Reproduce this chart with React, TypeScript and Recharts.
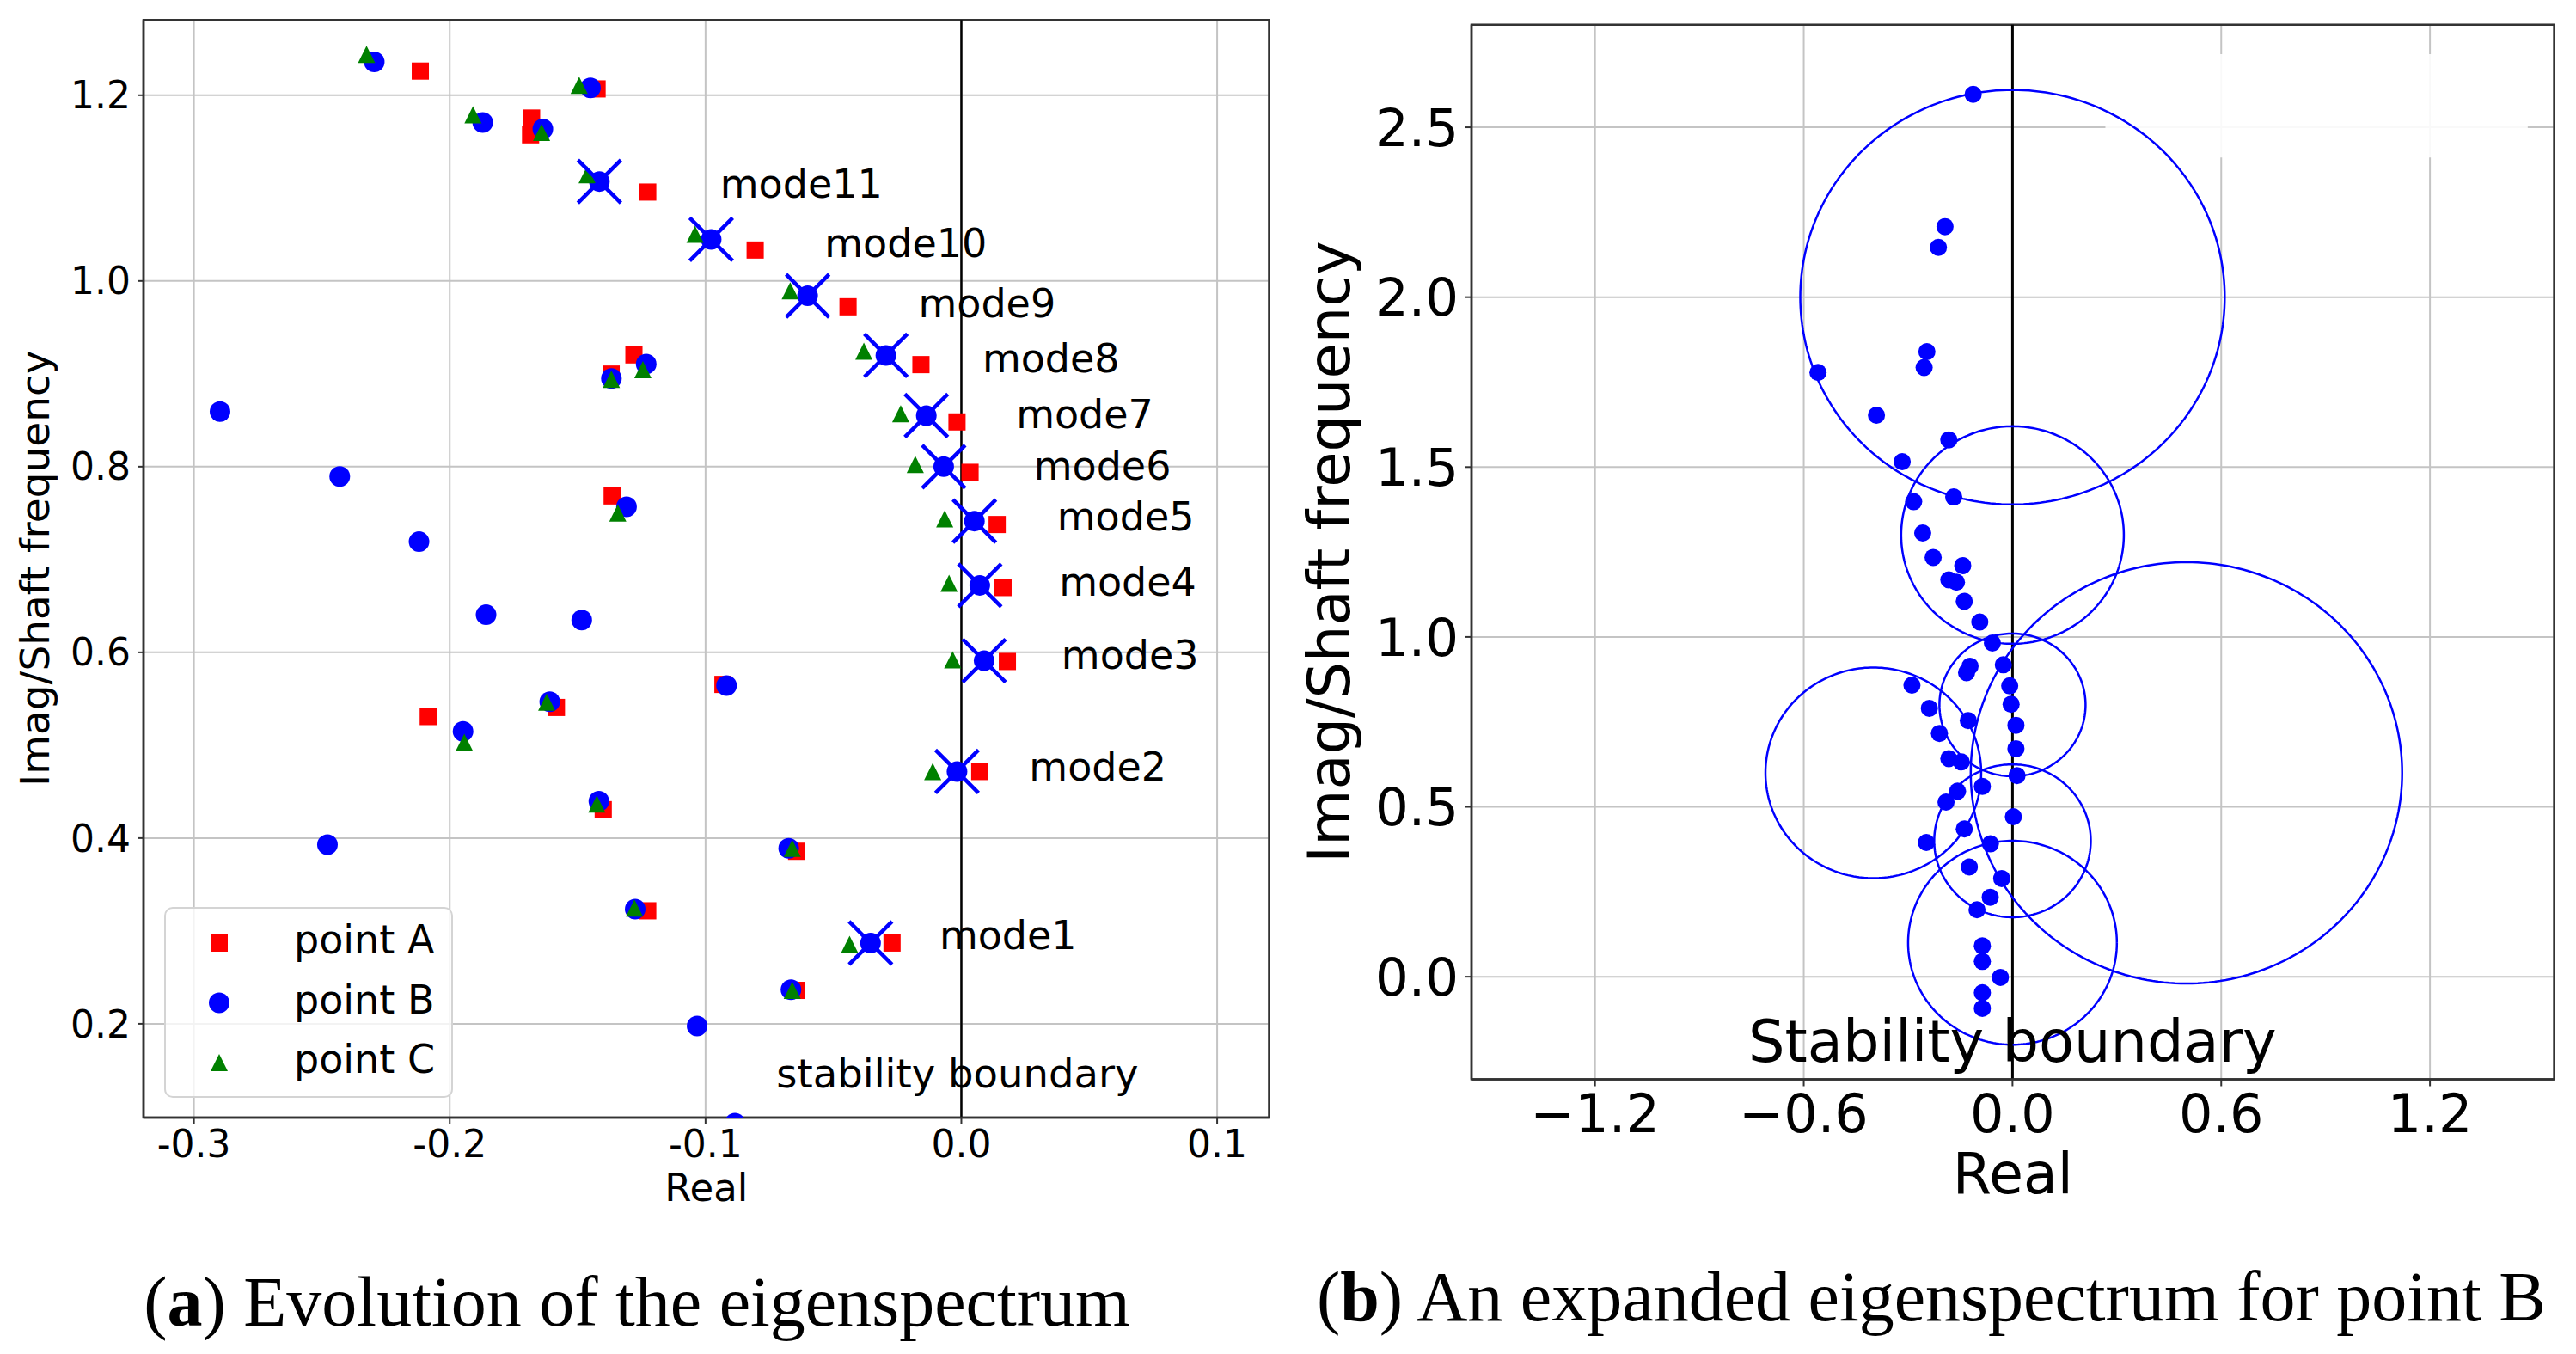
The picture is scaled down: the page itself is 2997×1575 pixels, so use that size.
import React from 'react';
import {
  ScatterChart,
  Scatter,
  XAxis,
  YAxis,
  CartesianGrid,
  ReferenceLine,
  ReferenceArea,
  Legend,
} from 'recharts';

const FONT = 'DejaVu Sans, Verdana, sans-serif';
const SERIF = 'Liberation Serif, Times New Roman, serif';

// ---------------- Panel (a) data ----------------
const pointA = [
  { x: -0.2115, y: 1.226 }, { x: -0.1424, y: 1.2068 }, { x: -0.168, y: 1.1754 },
  { x: -0.1684, y: 1.1574 }, { x: -0.1226, y: 1.0957 }, { x: -0.0806, y: 1.0333 },
  { x: -0.0443, y: 0.9722 }, { x: -0.0158, y: 0.9099 }, { x: -0.0017, y: 0.8482 },
  { x: 0.0034, y: 0.7939 }, { x: 0.014, y: 0.7377 }, { x: 0.0163, y: 0.6698 },
  { x: 0.018, y: 0.5902 }, { x: 0.0072, y: 0.4717 }, { x: -0.0271, y: 0.287 },
  { x: -0.128, y: 0.9204 }, { x: -0.1369, y: 0.8997 }, { x: -0.1365, y: 0.7685 },
  { x: -0.0932, y: 0.5655 }, { x: -0.1583, y: 0.5407 }, { x: -0.2084, y: 0.5309 },
  { x: -0.14, y: 0.4306 }, { x: -0.0644, y: 0.3858 }, { x: -0.1226, y: 0.3217 },
  { x: -0.0645, y: 0.236 },
];

const pointB = [
  { x: -0.2295, y: 1.236 }, { x: -0.145, y: 1.208 }, { x: -0.1871, y: 1.1707 },
  { x: -0.1636, y: 1.1636 }, { x: -0.1415, y: 1.1071 }, { x: -0.0978, y: 1.0448 },
  { x: -0.0601, y: 0.984 }, { x: -0.0295, y: 0.9198 }, { x: -0.0137, y: 0.855 },
  { x: -0.0069, y: 0.8 }, { x: 0.0051, y: 0.7414 }, { x: 0.0072, y: 0.6722 },
  { x: 0.0089, y: 0.5911 }, { x: -0.0017, y: 0.4717 }, { x: -0.0355, y: 0.287 },
  { x: -0.1232, y: 0.9106 }, { x: -0.1368, y: 0.895 }, { x: -0.1309, y: 0.7569 },
  { x: -0.2898, y: 0.8593 }, { x: -0.243, y: 0.7895 }, { x: -0.212, y: 0.7192 },
  { x: -0.1858, y: 0.6405 }, { x: -0.1484, y: 0.6349 }, { x: -0.0918, y: 0.5643 },
  { x: -0.1609, y: 0.5469 }, { x: -0.1948, y: 0.515 }, { x: -0.1417, y: 0.4398 },
  { x: -0.2478, y: 0.393 }, { x: -0.0675, y: 0.389 }, { x: -0.1275, y: 0.3235 },
  { x: -0.0666, y: 0.2367 }, { x: -0.1033, y: 0.1976 }, { x: -0.0885, y: 0.093 },
];

const pointC = [
  { x: -0.2325, y: 1.244 }, { x: -0.1494, y: 1.2106 }, { x: -0.1909, y: 1.179 },
  { x: -0.1641, y: 1.16 }, { x: -0.1463, y: 1.1143 }, { x: -0.1041, y: 1.0504 },
  { x: -0.0669, y: 0.9893 }, { x: -0.0381, y: 0.9244 }, { x: -0.0237, y: 0.8571 },
  { x: -0.018, y: 0.8025 }, { x: -0.0065, y: 0.7439 }, { x: -0.0048, y: 0.6744 },
  { x: -0.0034, y: 0.592 }, { x: -0.0112, y: 0.4717 }, { x: -0.0437, y: 0.2855 },
  { x: -0.1245, y: 0.9044 }, { x: -0.1368, y: 0.894 }, { x: -0.1343, y: 0.75 },
  { x: -0.1621, y: 0.5463 }, { x: -0.1943, y: 0.5031 }, { x: -0.1425, y: 0.4368 },
  { x: -0.0661, y: 0.389 }, { x: -0.1278, y: 0.3247 }, { x: -0.0661, y: 0.236 },
];

const modeMarkers = [
  { x: -0.0355, y: 0.287 }, { x: -0.0017, y: 0.4717 }, { x: 0.0089, y: 0.5911 },
  { x: 0.0072, y: 0.6722 }, { x: 0.0051, y: 0.7414 }, { x: -0.0069, y: 0.8 },
  { x: -0.0137, y: 0.855 }, { x: -0.0295, y: 0.9198 }, { x: -0.0601, y: 0.984 },
  { x: -0.0978, y: 1.0448 }, { x: -0.1415, y: 1.1071 },
];

const modeLabels = [
  { label: 'mode1', x: -0.0086, y: 0.2803 },
  { label: 'mode2', x: 0.0265, y: 0.4615 },
  { label: 'mode3', x: 0.0391, y: 0.5819 },
  { label: 'mode4', x: 0.0382, y: 0.6611 },
  { label: 'mode5', x: 0.0374, y: 0.7309 },
  { label: 'mode6', x: 0.0283, y: 0.7855 },
  { label: 'mode7', x: 0.0214, y: 0.8411 },
  { label: 'mode8', x: 0.0082, y: 0.9019 },
  { label: 'mode9', x: -0.0168, y: 0.9608 },
  { label: 'mode10', x: -0.0535, y: 1.0257 },
  { label: 'mode11', x: -0.0943, y: 1.0895 },
];

const leftAnnotations = [{ label: 'stability boundary', x: -0.0723, y: 0.1312 }];

const leftXTicks = [-0.3, -0.2, -0.1, 0.0, 0.1];
const leftYTicks = [0.2, 0.4, 0.6, 0.8, 1.0, 1.2];
const leftXDomain = [-0.3197, 0.1203];
const leftYDomain = [0.099, 1.281];

// ---------------- Panel (b) data ----------------
const spectrumB = [
  { x: -0.113, y: 2.597 }, { x: -0.194, y: 2.2075 }, { x: -0.213, y: 2.1465 },
  { x: -0.246, y: 1.8395 }, { x: -0.254, y: 1.793 }, { x: -0.559, y: 1.7785 },
  { x: -0.391, y: 1.6526 }, { x: -0.183, y: 1.58 }, { x: -0.317, y: 1.516 },
  { x: -0.169, y: 1.412 }, { x: -0.284, y: 1.398 }, { x: -0.258, y: 1.306 },
  { x: -0.228, y: 1.234 }, { x: -0.143, y: 1.21 }, { x: -0.183, y: 1.168 },
  { x: -0.161, y: 1.161 }, { x: -0.1386, y: 1.105 }, { x: -0.094, y: 1.044 },
  { x: -0.0578, y: 0.982 }, { x: -0.0264, y: 0.918 }, { x: -0.122, y: 0.914 },
  { x: -0.132, y: 0.895 }, { x: -0.008, y: 0.856 }, { x: -0.004, y: 0.802 },
  { x: 0.0099, y: 0.74 }, { x: 0.0099, y: 0.671 }, { x: 0.013, y: 0.592 },
  { x: 0.0025, y: 0.471 }, { x: -0.289, y: 0.858 }, { x: -0.239, y: 0.79 },
  { x: -0.127, y: 0.754 }, { x: -0.21, y: 0.716 }, { x: -0.183, y: 0.642 },
  { x: -0.147, y: 0.632 }, { x: -0.0866, y: 0.56 }, { x: -0.158, y: 0.546 },
  { x: -0.191, y: 0.514 }, { x: -0.1386, y: 0.435 }, { x: -0.2475, y: 0.395 },
  { x: -0.0635, y: 0.391 }, { x: -0.124, y: 0.323 }, { x: -0.031, y: 0.289 },
  { x: -0.064, y: 0.234 }, { x: -0.102, y: 0.197 }, { x: -0.0866, y: 0.091 },
  { x: -0.0866, y: 0.045 }, { x: -0.0347, y: -0.002 }, { x: -0.0866, y: -0.047 },
  { x: -0.0866, y: -0.093 },
];

// circles drawn in data units: centre and radius
const stabilityCircles = [
  { cx: 0, cy: 2.0, r: 0.61 },
  { cx: 0, cy: 1.3, r: 0.32 },
  { cx: 0.5, cy: 0.6, r: 0.62 },
  { cx: -0.4, cy: 0.6, r: 0.31 },
  { cx: 0, cy: 0.8, r: 0.21 },
  { cx: 0, cy: 0.4, r: 0.225 },
  { cx: 0, cy: 0.1, r: 0.3 },
];

const rightAnnotations = [{ label: 'Stability boundary', x: 0, y: -0.25 }];

const rightXTicks = [-1.2, -0.6, 0.0, 0.6, 1.2];
const rightYTicks = [0.0, 0.5, 1.0, 1.5, 2.0, 2.5];
const rightXDomain = [-1.555, 1.557];
const rightYDomain = [-0.302, 2.802];
const rightFadeBox = { x1: 0.267, x2: 1.481, y1: 2.411, y2: 2.715 };

// outline of a circle (geometry from centre + radius)
const circleOutline = (c: { cx: number; cy: number; r: number }) => {
  const pts: { x: number; y: number }[] = [];
  const n = 240;
  for (let i = 0; i <= n; i++) {
    const t = (i / n) * 2 * Math.PI;
    pts.push({ x: c.cx + c.r * Math.cos(t), y: c.cy + c.r * Math.sin(t) });
  }
  return pts;
};

// ---------------- shapes ----------------
const SquareShape = (p: any) => (
  <rect x={p.cx - 10} y={p.cy - 10} width={20} height={20} fill="#ff0000" />
);
const CircleShape = (p: any) => <circle cx={p.cx} cy={p.cy} r={12} fill="#0000ff" />;
const SmallCircleShape = (p: any) => <circle cx={p.cx} cy={p.cy} r={10} fill="#0000ff" />;
const TriangleShape = (p: any) => (
  <polygon
    points={`${p.cx},${p.cy - 10} ${p.cx - 10},${p.cy + 10} ${p.cx + 10},${p.cy + 10}`}
    fill="#008000"
  />
);
const XShape = (p: any) => (
  <g stroke="#0000ff" strokeWidth={4.5}>
    <line x1={p.cx - 25} y1={p.cy - 25} x2={p.cx + 25} y2={p.cy + 25} />
    <line x1={p.cx - 25} y1={p.cy + 25} x2={p.cx + 25} y2={p.cy - 25} />
  </g>
);
const textShape = (fontSize: number, anchor: string) => (p: any) => (
  <text
    x={p.cx}
    y={p.cy}
    fontSize={fontSize}
    textAnchor={anchor as any}
    fontFamily={FONT}
    fill="#000"
  >
    {p.payload.label}
  </text>
);
const NoShape = () => <g />;

const legendMarker = (type: string, cx: number, cy: number) => {
  if (type === 'square') return <rect x={cx - 10} y={cy - 10} width={20} height={20} fill="#ff0000" />;
  if (type === 'circle') return <circle cx={cx} cy={cy} r={12} fill="#0000ff" />;
  return (
    <polygon
      points={`${cx},${cy - 10} ${cx - 10},${cy + 10} ${cx + 10},${cy + 10}`}
      fill="#008000"
    />
  );
};

const LegendBox = (props: any) => {
  const items = (props.payload || []).filter((e: any) => e.type && e.type !== 'none');
  return (
    <svg width={336} height={222} style={{ display: 'block' }}>
      <rect
        x={1}
        y={1}
        width={334}
        height={220}
        rx={9}
        fill="#ffffff"
        fillOpacity={0.8}
        stroke="#d4d4d4"
        strokeWidth={2}
      />
      {items.map((e: any, i: number) => {
        const cy = 42 + i * 69.5;
        return (
          <g key={i}>
            {legendMarker(e.type, 64, cy)}
            <text x={151} y={cy + 12} fontSize={46} fontFamily={FONT} fill="#000">
              {e.value}
            </text>
          </g>
        );
      })}
    </svg>
  );
};

const minusFmt = (v: number) => (v < 0 ? '\u2212' : '') + Math.abs(v).toFixed(1);

const GRID = '#c4c4c4';
const SPINE = '#333333';

export default function App() {
  return (
    <div
      style={{
        position: 'absolute',
        left: 0,
        top: 0,
        width: 2997,
        height: 1575,
        background: '#ffffff',
        overflow: 'hidden',
      }}
    >
      <svg width={2997} height={1575} style={{ position: 'absolute', left: 0, top: 0 }}>
        <text x={741} y={1542} textAnchor="middle" fontSize={82} fontFamily={SERIF} fill="#000">
          (<tspan fontWeight="bold">a</tspan>) Evolution of the eigenspectrum
        </text>
        <text x={2247} y={1536} textAnchor="middle" fontSize={82} fontFamily={SERIF} fill="#000">
          (<tspan fontWeight="bold">b</tspan>) An expanded eigenspectrum for point B
        </text>
      </svg>

      {/* Panel (a) */}
      <div style={{ position: 'absolute', left: 0, top: 0 }}>
        <ScatterChart
          width={1500}
          height={1420}
          margin={{ top: 23.3, right: 23.5, left: 0, bottom: 0 }}
          style={{ fontFamily: FONT }}
        >
          <CartesianGrid stroke={GRID} strokeWidth={2} />
          <XAxis
            type="number"
            dataKey="x"
            domain={leftXDomain}
            ticks={leftXTicks}
            interval={0}
            allowDataOverflow
            height={120}
            tickSize={7}
            tickMargin={8}
            tickFormatter={(v: number) => v.toFixed(1)}
            tick={{ fontSize: 44, fill: '#000', fontFamily: FONT }}
            axisLine={{ stroke: SPINE, strokeWidth: 2.5 }}
            tickLine={{ stroke: SPINE, strokeWidth: 2 }}
            label={() => (
              <text x={821.75} y={1397} textAnchor="middle" fontSize={45} fontFamily={FONT} fill="#000">
                Real
              </text>
            )}
          />
          <YAxis
            type="number"
            dataKey="y"
            domain={leftYDomain}
            ticks={leftYTicks}
            interval={0}
            allowDataOverflow
            width={167}
            tickSize={7}
            tickMargin={8}
            tickFormatter={(v: number) => v.toFixed(1)}
            tick={{ fontSize: 44, fill: '#000', fontFamily: FONT }}
            axisLine={{ stroke: SPINE, strokeWidth: 2.5 }}
            tickLine={{ stroke: SPINE, strokeWidth: 2 }}
            label={() => (
              <text
                x={57}
                y={661}
                transform="rotate(-90, 57, 661)"
                textAnchor="middle"
                fontSize={47}
                fontFamily={FONT}
                fill="#000"
              >
                Imag/Shaft frequency
              </text>
            )}
          />
          <ReferenceLine x={0} stroke="#000" strokeWidth={2.5} />
          <Scatter
            name="point A"
            data={pointA}
            fill="#ff0000"
            legendType="square"
            shape={SquareShape}
            isAnimationActive={false}
          />
          <Scatter
            name="point B"
            data={pointB}
            fill="#0000ff"
            legendType="circle"
            shape={CircleShape}
            isAnimationActive={false}
          />
          <Scatter
            name="point C"
            data={pointC}
            fill="#008000"
            legendType="triangle"
            shape={TriangleShape}
            isAnimationActive={false}
          />
          <Scatter
            name="modes"
            data={modeMarkers}
            legendType="none"
            shape={XShape}
            isAnimationActive={false}
          />
          <Scatter
            name="modeLabels"
            data={modeLabels}
            legendType="none"
            shape={textShape(46, 'start')}
            isAnimationActive={false}
          />
          <Scatter
            name="annot"
            data={leftAnnotations}
            legendType="none"
            shape={textShape(46.5, 'start')}
            isAnimationActive={false}
          />
          <ReferenceArea
            x1={leftXDomain[0]}
            x2={leftXDomain[1]}
            y1={leftYDomain[0]}
            y2={leftYDomain[1]}
            fill="none"
            fillOpacity={0}
            stroke={SPINE}
            strokeWidth={2.5}
          />
          <Legend
            layout="horizontal"
            verticalAlign="middle"
            align="center"
            wrapperStyle={{ left: 191, top: 1055, width: 336, height: 222 }}
            content={(props: any) => <LegendBox payload={props.payload} />}
          />
        </ScatterChart>
      </div>

      {/* Panel (b) */}
      <div style={{ position: 'absolute', left: 1500, top: 0 }}>
        <ScatterChart
          width={1497}
          height={1420}
          margin={{ top: 28.7, right: 25.4, left: 0, bottom: 0 }}
          style={{ fontFamily: FONT }}
        >
          <CartesianGrid stroke={GRID} strokeWidth={2} />
          <XAxis
            type="number"
            dataKey="x"
            domain={rightXDomain}
            ticks={rightXTicks}
            interval={0}
            allowDataOverflow
            height={164.5}
            tickSize={8}
            tickMargin={9.5}
            tickFormatter={minusFmt}
            tick={{ fontSize: 62, fill: '#000', fontFamily: FONT }}
            axisLine={{ stroke: SPINE, strokeWidth: 2.5 }}
            tickLine={{ stroke: SPINE, strokeWidth: 2 }}
            label={() => (
              <text x={841.8} y={1388} textAnchor="middle" fontSize={65} fontFamily={FONT} fill="#000">
                Real
              </text>
            )}
          />
          <YAxis
            type="number"
            dataKey="y"
            domain={rightYDomain}
            ticks={rightYTicks}
            interval={0}
            allowDataOverflow
            width={212}
            tickSize={8}
            tickMargin={7}
            tickFormatter={minusFmt}
            tick={{ fontSize: 61, fill: '#000', fontFamily: FONT }}
            axisLine={{ stroke: SPINE, strokeWidth: 2.5 }}
            tickLine={{ stroke: SPINE, strokeWidth: 2 }}
            label={() => (
              <text
                x={70}
                y={642}
                transform="rotate(-90, 70, 642)"
                textAnchor="middle"
                fontSize={67}
                fontFamily={FONT}
                fill="#000"
              >
                Imag/Shaft frequency
              </text>
            )}
          />
          <ReferenceLine x={0} stroke="#000" strokeWidth={3} />
          {stabilityCircles.map((c, i) => (
            <Scatter
              key={'c' + i}
              name={'circle' + i}
              data={circleOutline(c)}
              line={{ stroke: '#0000ff', strokeWidth: 2.5, fill: 'none' }}
              lineType="joint"
              legendType="none"
              shape={NoShape}
              isAnimationActive={false}
            />
          ))}
          <Scatter
            name="point B spectrum"
            data={spectrumB}
            fill="#0000ff"
            legendType="none"
            shape={SmallCircleShape}
            isAnimationActive={false}
          />
          <Scatter
            name="annotR"
            data={rightAnnotations}
            legendType="none"
            shape={textShape(67, 'middle')}
            isAnimationActive={false}
          />
          <ReferenceArea
            x1={rightFadeBox.x1}
            x2={rightFadeBox.x2}
            y1={rightFadeBox.y1}
            y2={rightFadeBox.y2}
            fill="#ffffff"
            fillOpacity={0.9}
            stroke="none"
          />
          <ReferenceArea
            x1={rightXDomain[0]}
            x2={rightXDomain[1]}
            y1={rightYDomain[0]}
            y2={rightYDomain[1]}
            fill="none"
            fillOpacity={0}
            stroke={SPINE}
            strokeWidth={2.5}
          />
        </ScatterChart>
      </div>
    </div>
  );
}
